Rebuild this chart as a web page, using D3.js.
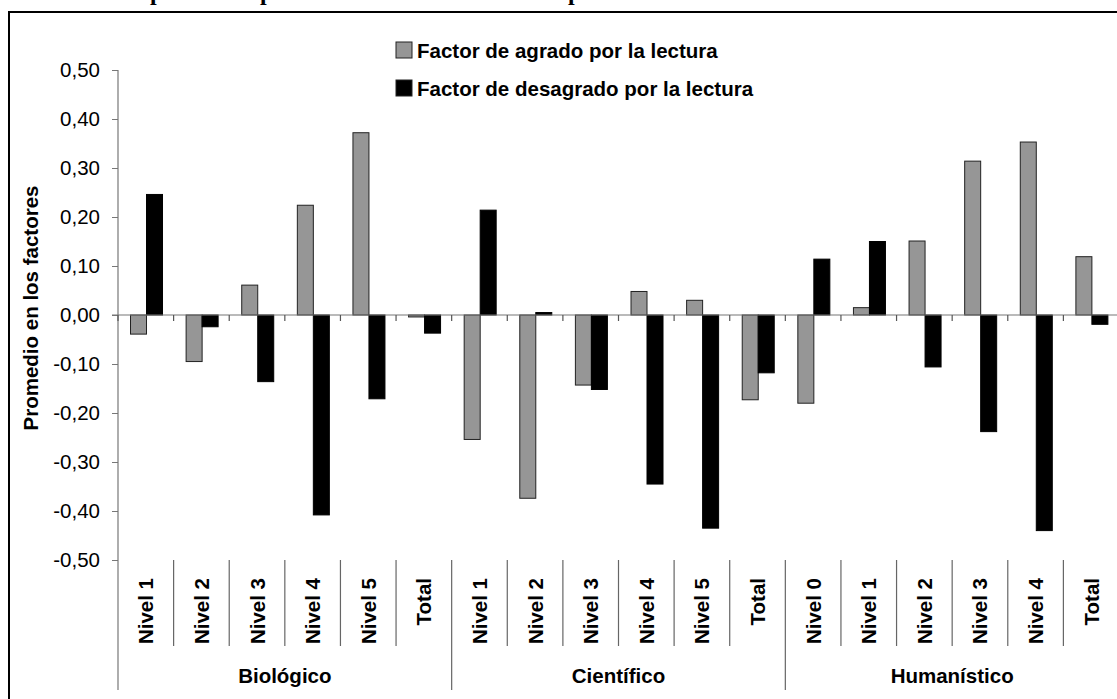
<!DOCTYPE html>
<html>
<head>
<meta charset="utf-8">
<script src="https://cdn.jsdelivr.net/npm/d3@7/dist/d3.min.js"></script>
<style>
  html, body { margin: 0; padding: 0; background: #fff; overflow: hidden; }
  svg { display: block; }
  text { font-family: "Liberation Sans", Arial, sans-serif; }
</style>
</head>
<body>
<svg id="chart" width="1117" height="699"></svg>
<script>
// Orientaciones y categorías del eje X (6 categorías por orientación)
const grupos = ["Biológico", "Científico", "Humanístico"];
const categorias = [
  "Nivel 1", "Nivel 2", "Nivel 3", "Nivel 4", "Nivel 5", "Total",
  "Nivel 1", "Nivel 2", "Nivel 3", "Nivel 4", "Nivel 5", "Total",
  "Nivel 0", "Nivel 1", "Nivel 2", "Nivel 3", "Nivel 4", "Total"
];
const series = ["Factor de agrado por la lectura", "Factor de desagrado por la lectura"];

// Promedio en los factores por categoría
const agrado = [
  -0.039, -0.095, 0.061, 0.224, 0.372, -0.004,
  -0.254, -0.374, -0.143, 0.048, 0.030, -0.173,
  -0.180, 0.015, 0.151, 0.314, 0.353, 0.119
];
const desagrado = [
  0.246, -0.024, -0.136, -0.408, -0.171, -0.037,
  0.214, 0.005, -0.152, -0.345, -0.435, -0.118,
  0.114, 0.150, -0.106, -0.238, -0.440, -0.019
];

const colores = ["#969696", "#000000"];
const yTicks = [-0.5, -0.4, -0.3, -0.2, -0.1, 0, 0.1, 0.2, 0.3, 0.4, 0.5];

const svg = d3.select("#chart");
const mLeft = 118, mRight = 1119, mTop = 70, mBottom = 560;

const x = d3.scaleBand().domain(d3.range(categorias.length)).range([mLeft, mRight]).padding(0);
const y = d3.scaleLinear().domain([-0.5, 0.5]).range([mBottom, mTop]);
const fmt = d3.formatLocale({
  decimal: ",", thousands: ".", grouping: [3], currency: ["", ""], minus: "-"
}).format(".2f");

// Título (parcialmente fuera del área visible)
svg.append("text")
  .attr("x", 86).attr("y", -0.5)
  .style("font-family", "'Liberation Serif', 'Times New Roman', serif")
  .style("font-weight", "bold").style("font-size", "24px")
  .text("desempeño en la prueba de Ciencias Naturales para los distintos niveles de cada orientación");

// Marco exterior
svg.append("rect")
  .attr("x", 9).attr("y", 12).attr("width", 1130).attr("height", 720)
  .attr("fill", "none").attr("stroke", "#000").attr("stroke-width", 2);

// Eje Y
const yAxis = d3.axisLeft(y).tickValues(yTicks).tickFormat(fmt).tickSize(6).tickPadding(12);
const gy = svg.append("g").attr("transform", `translate(${mLeft},0)`).call(yAxis);
gy.select(".domain").remove();
gy.selectAll(".tick line").attr("stroke", "#777");
gy.selectAll(".tick text")
  .style("font-family", "'Liberation Sans', Arial, sans-serif")
  .style("font-size", "20.5px").attr("fill", "#000");
svg.append("line")
  .attr("x1", mLeft).attr("x2", mLeft).attr("y1", mTop).attr("y2", 690)
  .attr("stroke", "#777").attr("stroke-width", 1.2);

// Título del eje Y
svg.append("text")
  .attr("transform", `translate(38,${(183 + 433) / 2}) rotate(-90)`)
  .attr("text-anchor", "middle")
  .style("font-weight", "bold").style("font-size", "20.5px")
  .text("Promedio en los factores");

// Barras
const bw = 16;
const inner = d3.scaleBand().domain([0, 1]).range([0, 2 * bw]).padding(0);
const datos = categorias.map((c, i) => [agrado[i], desagrado[i]]);
const gCat = svg.append("g").selectAll("g").data(datos).join("g")
  .attr("transform", (d, i) => `translate(${x(i) + x.bandwidth() / 2 - bw + 0.7},0)`);
gCat.selectAll("rect").data(d => d.map((v, s) => ({ v, s }))).join("rect")
  .attr("x", d => inner(d.s))
  .attr("width", inner.bandwidth())
  .attr("y", d => y(Math.max(0, d.v)))
  .attr("height", d => Math.max(1, Math.abs(y(d.v) - y(0))))
  .attr("fill", d => colores[d.s])
  .attr("stroke", d => d.s === 0 ? "#222" : "#000")
  .attr("stroke-width", 1);

// Línea del cero con marcas de categoría
svg.append("line")
  .attr("x1", mLeft - 6).attr("x2", mRight).attr("y1", y(0)).attr("y2", y(0))
  .attr("stroke", "#777").attr("stroke-width", 1.2);
svg.append("g").selectAll("line").data(d3.range(categorias.length)).join("line")
  .attr("x1", i => x(i)).attr("x2", i => x(i))
  .attr("y1", y(0)).attr("y2", y(0) + 6)
  .attr("stroke", "#555").attr("stroke-width", 1.2);

// Separadores de categorías y de orientaciones
const porGrupo = categorias.length / grupos.length;
svg.append("g").selectAll("line").data(d3.range(1, categorias.length + 1)).join("line")
  .attr("x1", i => x(i) === undefined ? mRight : x(i))
  .attr("x2", i => x(i) === undefined ? mRight : x(i))
  .attr("y1", mBottom)
  .attr("y2", i => i % porGrupo === 0 ? 690 : 646)
  .attr("stroke", "#666").attr("stroke-width", 1.2);

// Etiquetas de categoría (verticales)
svg.append("g").selectAll("text").data(categorias).join("text")
  .attr("transform", (d, i) => `translate(${x(i) + x.bandwidth() / 2 + 7.5},578) rotate(-90)`)
  .attr("text-anchor", "end")
  .style("font-weight", "bold").style("font-size", "20.5px")
  .text(d => d);

// Etiquetas de orientación
svg.append("g").selectAll("text").data(grupos).join("text")
  .attr("x", (d, g) => x(g * porGrupo) + x.bandwidth() * porGrupo / 2)
  .attr("y", 683)
  .attr("text-anchor", "middle")
  .style("font-weight", "bold").style("font-size", "20.5px")
  .text(d => d);

// Leyenda
const leg = svg.append("g").selectAll("g").data(series).join("g")
  .attr("transform", (d, i) => `translate(396,${i === 0 ? 58 : 96})`);
leg.append("rect")
  .attr("x", 0).attr("y", -16).attr("width", 16).attr("height", 16)
  .attr("fill", (d, i) => colores[i]).attr("stroke", "#222").attr("stroke-width", 1);
leg.append("text")
  .attr("x", 21).attr("y", 0)
  .style("font-weight", "bold").style("font-size", "20.5px")
  .text(d => d);
</script>
</body>
</html>
